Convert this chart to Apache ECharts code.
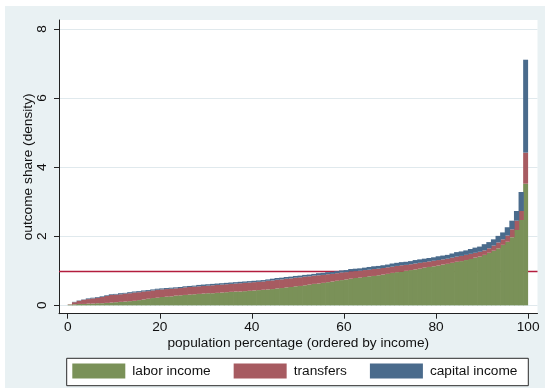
<!DOCTYPE html>
<html>
<head>
<meta charset="utf-8">
<script src="https://cdn.jsdelivr.net/npm/echarts@6/dist/echarts.min.js"></script>
<style>
  html, body { margin: 0; padding: 0; background: #ffffff; }
  #chart { width: 545px; height: 388px; }
</style>
</head>
<body>
<div id="chart"></div>
<script>
// Population percentiles, ordered by income (1 = poorest, 100 = richest)
const percentiles = [
  1,2,3,4,5,6,7,8,9,10,11,12,13,14,15,16,17,18,19,20,
  21,22,23,24,25,26,27,28,29,30,31,32,33,34,35,36,37,38,39,40,
  41,42,43,44,45,46,47,48,49,50,51,52,53,54,55,56,57,58,59,60,
  61,62,63,64,65,66,67,68,69,70,71,72,73,74,75,76,77,78,79,80,
  81,82,83,84,85,86,87,88,89,90,91,92,93,94,95,96,97,98,99,100
];

// Outcome share (density) per percentile, by income source
const laborIncome = [
  0.02,0.03,0.04,0.04,0.05,0.05,0.06,0.06,0.07,0.08,
  0.09,0.10,0.11,0.12,0.13,0.15,0.17,0.19,0.21,0.22,
  0.24,0.25,0.26,0.28,0.29,0.30,0.31,0.32,0.33,0.34,
  0.35,0.35,0.36,0.37,0.38,0.39,0.40,0.40,0.41,0.42,
  0.43,0.44,0.45,0.46,0.47,0.49,0.50,0.52,0.53,0.55,
  0.56,0.58,0.60,0.62,0.63,0.65,0.67,0.69,0.71,0.73,
  0.75,0.77,0.79,0.80,0.82,0.84,0.85,0.87,0.89,0.91,
  0.94,0.96,0.98,1.00,1.02,1.04,1.06,1.09,1.11,1.13,
  1.15,1.18,1.20,1.23,1.26,1.28,1.31,1.34,1.38,1.41,
  1.46,1.52,1.58,1.65,1.75,1.84,1.97,2.18,2.47,3.52
];
const transfers = [
  0.01,0.06,0.09,0.12,0.13,0.15,0.16,0.18,0.20,0.22,
  0.22,0.22,0.23,0.23,0.24,0.23,0.23,0.22,0.22,0.23,
  0.22,0.22,0.22,0.21,0.21,0.22,0.22,0.22,0.22,0.22,
  0.22,0.23,0.23,0.23,0.23,0.23,0.23,0.24,0.24,0.24,
  0.24,0.24,0.24,0.25,0.25,0.25,0.25,0.25,0.25,0.25,
  0.25,0.25,0.24,0.24,0.24,0.23,0.23,0.22,0.22,0.22,
  0.21,0.21,0.20,0.20,0.20,0.19,0.20,0.19,0.19,0.19,
  0.18,0.18,0.18,0.17,0.17,0.17,0.17,0.16,0.16,0.16,
  0.16,0.15,0.15,0.15,0.15,0.15,0.15,0.15,0.14,0.14,
  0.13,0.13,0.15,0.17,0.16,0.18,0.23,0.27,0.26,0.90
];
const capitalIncome = [
  0.00,0.01,0.01,0.01,0.02,0.02,0.02,0.02,0.02,0.02,
  0.02,0.03,0.02,0.03,0.03,0.03,0.03,0.03,0.03,0.03,
  0.03,0.03,0.03,0.03,0.03,0.03,0.03,0.03,0.04,0.04,
  0.04,0.04,0.04,0.04,0.04,0.04,0.04,0.04,0.04,0.04,
  0.04,0.04,0.04,0.04,0.05,0.05,0.05,0.05,0.05,0.05,
  0.05,0.05,0.05,0.05,0.06,0.06,0.06,0.06,0.06,0.06,
  0.06,0.07,0.07,0.07,0.07,0.08,0.08,0.08,0.08,0.08,
  0.09,0.09,0.09,0.09,0.09,0.10,0.10,0.10,0.10,0.10,
  0.11,0.11,0.11,0.12,0.13,0.13,0.13,0.14,0.15,0.15,
  0.18,0.18,0.18,0.19,0.20,0.24,0.25,0.28,0.55,2.69
];

// Reference level (equal share) and axis ticks
const equalShare = 1;
const xTicks = [0, 20, 40, 60, 80, 100];
const yTicks = [0, 2, 4, 6, 8];

// ---- styling / layout ----
const FONT = '"Liberation Sans", Arial, Helvetica, sans-serif';
const TEXT = '#111111';
const FS = 13.7;
const W = 545, H = 388;
const PLOT = { left: 59, top: 20, right: 7.5, bottom: 74.3 };   // framed plot region
const X_RANGE = [-1.89, 102.04];
const Y_RANGE = [-0.243, 8.26];
const COLORS = { labor: '#7a9158', transfers: '#a75b61', capital: '#4a6b8c' };

// pixel span of the 0..100 percentile range inside the plot region
const pxPerUnit = (W - PLOT.left - PLOT.right) / (X_RANGE[1] - X_RANGE[0]);
const BARS = {
  left: PLOT.left + (0 - X_RANGE[0]) * pxPerUnit,
  right: PLOT.right + (X_RANGE[1] - 100) * pxPerUnit,
  top: PLOT.top,
  bottom: PLOT.bottom
};

// bars are a hair wider than their band so neighbours overlap and no seams show
function barSeries(name, vals, color) {
  return {
    name: name,
    type: 'bar',
    stack: 'share',
    xAxisIndex: 1,
    yAxisIndex: 1,
    barWidth: pxPerUnit + 0.7,
    z: 3,
    itemStyle: { color: color, borderWidth: 0 },
    emphasis: { disabled: true },
    data: vals
  };
}

const axisText = { fontFamily: FONT, fontSize: FS, color: TEXT };
const axisInk = { color: '#222222', width: 1 };

const chart = echarts.init(document.getElementById('chart'), null, { renderer: 'canvas', width: W, height: H });

chart.setOption({
  animation: false,
  backgroundColor: '#ffffff',
  textStyle: { fontFamily: FONT },
  graphic: [
    { type: 'rect', z: -10, silent: true,
      shape: { x: 5, y: 6, width: W - 5, height: H - 6 },
      style: { fill: '#e9f1f3' } },
    { type: 'rect', z: -5, silent: true,
      shape: { x: 66.7, y: 358.3, width: 461.6, height: 27.4 },
      style: { fill: '#ffffff', stroke: '#2a2a2a', lineWidth: 1 } }
  ],
  grid: [
    Object.assign({ show: true, backgroundColor: '#ffffff', borderWidth: 0 }, PLOT),
    Object.assign({ show: false }, BARS)
  ],
  legend: {
    left: 72.3, top: 363.5,
    padding: 0,
    itemWidth: 53, itemHeight: 15, itemGap: 23,
    icon: 'rect',
    selectedMode: false,
    textStyle: Object.assign({ padding: [0, 0, 0, 2] }, axisText),
    data: ['labor income', 'transfers', 'capital income']
  },
  xAxis: [
    {
      type: 'value', gridIndex: 0,
      min: X_RANGE[0], max: X_RANGE[1],
      name: 'population percentage (ordered by income)',
      nameLocation: 'middle', nameGap: 23,
      nameMoveOverlap: false,
      nameTextStyle: axisText,
      axisLine: { show: true, onZero: false, lineStyle: axisInk },
      axisTick: { show: true, length: 5, customValues: xTicks, lineStyle: axisInk },
      axisLabel: Object.assign({ customValues: xTicks, margin: 7 }, axisText),
      splitLine: { show: false }
    },
    {
      type: 'category', gridIndex: 1,
      data: percentiles,
      boundaryGap: true,
      show: false
    }
  ],
  yAxis: [
    {
      type: 'value', gridIndex: 0,
      min: Y_RANGE[0], max: Y_RANGE[1],
      name: 'outcome share (density)',
      nameLocation: 'middle', nameGap: 24,
      nameMoveOverlap: false,
      nameTextStyle: axisText,
      axisLine: { show: true, onZero: false, lineStyle: axisInk },
      axisTick: { show: true, length: 5, customValues: yTicks, lineStyle: axisInk },
      axisLabel: Object.assign({ customValues: yTicks, rotate: 90, margin: 10 }, axisText),
      splitLine: { show: true, lineStyle: { color: '#e0e9ed', width: 1.2 } }
    },
    {
      type: 'value', gridIndex: 1,
      min: Y_RANGE[0], max: Y_RANGE[1],
      show: false,
      splitLine: { show: false }
    }
  ],
  series: [
    {
      name: 'equal share',
      type: 'line',
      xAxisIndex: 0,
      yAxisIndex: 0,
      z: 1,
      data: [],
      silent: true,
      markLine: {
        silent: true,
        z: 1,
        symbol: 'none',
        label: { show: false },
        emphasis: { disabled: true },
        lineStyle: { color: '#b31d3d', width: 1.3, type: 'solid' },
        data: [{ yAxis: equalShare }]
      }
    },
    barSeries('labor income', laborIncome, COLORS.labor),
    barSeries('transfers', transfers, COLORS.transfers),
    barSeries('capital income', capitalIncome, COLORS.capital)
  ]
});
</script>
</body>
</html>
